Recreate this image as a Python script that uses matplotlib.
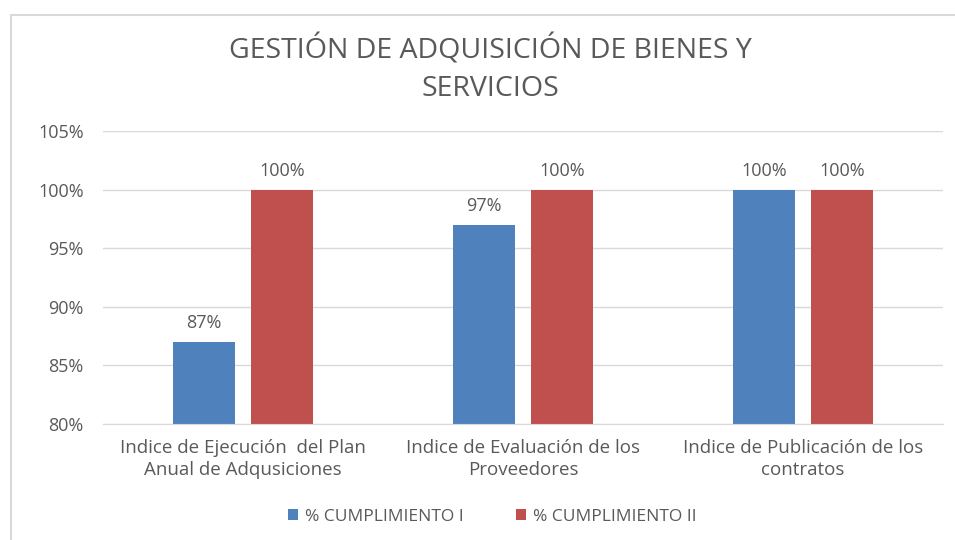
import matplotlib.pyplot as plt
from matplotlib.patches import Rectangle
import numpy as np

plt.rcParams['font.family'] = ['Open Sans', 'DejaVu Sans']

categories = ['Indice de Ejecución  del Plan\nAnual de Adqusiciones',
              'Indice de Evaluación de los\nProveedores',
              'Indice de Publicación de los\ncontratos']
cumpl_1 = [87, 97, 100]
cumpl_2 = [100, 100, 100]
yticks = [80, 85, 90, 95, 100, 105]

txt = '#595959'
fig = plt.figure(figsize=(9.55, 5.4), dpi=100)
fig.patches.append(Rectangle((11 / 955, -0.1), 1.2, 1 - 15 / 540 + 0.1,
                             transform=fig.transFigure, fill=False,
                             edgecolor='#d9d9d9', linewidth=1.5))
ax = fig.add_axes([103 / 955, 1 - 424 / 540, 840 / 955, 293 / 540])

x = np.arange(len(categories))
w = 0.22
b1 = ax.bar(x - 0.14, np.array(cumpl_1) - 80, w, bottom=80, color='#4f81bd', label='% CUMPLIMIENTO I')
b2 = ax.bar(x + 0.14, np.array(cumpl_2) - 80, w, bottom=80, color='#c0504d', label='% CUMPLIMIENTO II')
for bars, vals in ((b1, cumpl_1), (b2, cumpl_2)):
    for r, v in zip(bars, vals):
        ax.annotate(f'{v}%', (r.get_x() + r.get_width() / 2, v), xytext=(0, 7),
                    textcoords='offset points', ha='center', va='bottom',
                    fontsize=13, color=txt)

ax.set_xlim(-0.5, 2.5)
ax.set_ylim(80, 105)
ax.set_yticks(yticks)
ax.set_yticklabels([f'{t}%' for t in yticks])
ax.set_xticks(x)
ax.set_xticklabels(categories, linespacing=1.25)
ax.tick_params(axis='both', length=0, labelsize=13, labelcolor=txt)
ax.tick_params(axis='x', labelsize=13.5, pad=11)
ax.tick_params(axis='y', pad=14)
ax.grid(axis='y', color='#d9d9d9', linewidth=1)
ax.set_axisbelow(True)
for s in ['top', 'right', 'left']:
    ax.spines[s].set_visible(False)
ax.spines['bottom'].set_color('#d9d9d9')

fig.text(490 / 955, 1 - 69 / 540, 'GESTIÓN DE ADQUISICIÓN DE BIENES Y\nSERVICIOS',
         ha='center', va='center', fontsize=20.5, color=txt, linespacing=1.45)
fig.legend(handles=[b1, b2], loc='center', bbox_to_anchor=(492 / 955, 1 - 517 / 540),
           ncol=2, frameon=False, fontsize=12.5, labelcolor=txt, handlelength=0.6,
           handleheight=0.6, handletextpad=0.4, columnspacing=3)

fig.savefig('out.png', dpi=100)
